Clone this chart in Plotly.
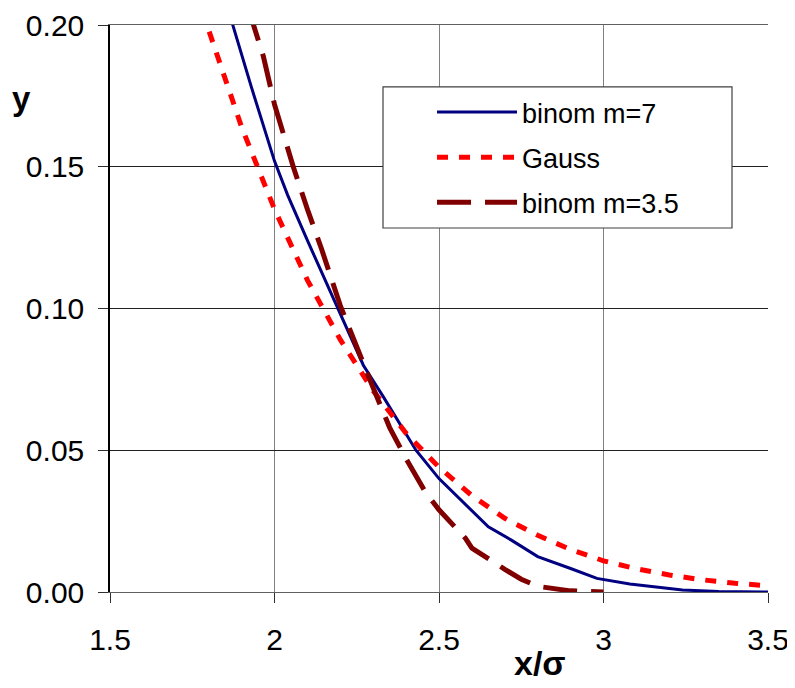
import plotly.graph_objects as go

# binom m=7
x_m7 = [1.85, 1.93, 2.0, 2.04, 2.1, 2.2, 2.27, 2.33, 2.43, 2.5, 2.65, 2.72, 2.8, 2.9, 2.98, 3.08, 3.24, 3.35, 3.5]
y_m7 = [0.209, 0.178, 0.152, 0.140, 0.124, 0.098, 0.080, 0.069, 0.050, 0.040, 0.023, 0.0183, 0.0125, 0.0083, 0.0048, 0.0028, 0.0007, 0.0002, 0.0]

# Gauss
x_g = [1.78, 1.9, 2.0, 2.1, 2.2, 2.3, 2.4, 2.5, 2.6, 2.7, 2.8, 2.9, 3.0, 3.1, 3.2, 3.3, 3.4, 3.5]
y_g = [0.205, 0.164, 0.135, 0.110, 0.089, 0.071, 0.056, 0.044, 0.034, 0.026, 0.020, 0.015, 0.011, 0.0082, 0.0060, 0.0043, 0.0031, 0.0022]

# binom m=3.5
x_m35 = [1.92, 1.966, 2.0, 2.057, 2.1, 2.143, 2.2, 2.25, 2.3, 2.35, 2.4, 2.46, 2.5, 2.58, 2.6, 2.7, 2.75, 2.8, 2.9, 3.0]
y_m35 = [0.206, 0.189, 0.172, 0.150, 0.135, 0.121, 0.101, 0.086, 0.072, 0.058, 0.047, 0.035, 0.029, 0.019, 0.0155, 0.008, 0.0045, 0.002, 0.0004, 0.0]

x_ticks = [1.5, 2, 2.5, 3, 3.5]
x_ticklabels = ["1.5", "2", "2.5", "3", "3.5"]
y_ticks = [0.0, 0.05, 0.10, 0.15, 0.20]
y_ticklabels = ["0.00", "0.05", "0.10", "0.15", "0.20"]

fig = go.Figure()
fig.add_trace(go.Scatter(x=x_m7, y=y_m7, mode="lines", name="binom m=7",
                         legendgroup="a",
                         line=dict(color="#000080", width=3)))
fig.add_trace(go.Scatter(x=x_g, y=y_g, mode="lines", name="Gauss",
                         legendgroup="b",
                         line=dict(color="#FF0000", width=5, dash="11px,11px")))
fig.add_trace(go.Scatter(x=x_m35, y=y_m35, mode="lines", name="binom m=3.5",
                         legendgroup="c",
                         line=dict(color="#800000", width=5, dash="34px,14px")))

tickfont = dict(family="Liberation Sans, Arial", size=30, color="black")

fig.update_layout(
    width=787, height=680,
    margin=dict(l=102, r=27, t=17, b=96),
    paper_bgcolor="white", plot_bgcolor="white",
    showlegend=True,
    legend=dict(x=0.4894, y=0.8889, xanchor="left", yanchor="top",
                bgcolor="rgba(0,0,0,0)", borderwidth=0,
                font=dict(family="Liberation Sans, Arial", size=27, color="black"),
                itemwidth=80, tracegroupgap=7,
                traceorder="grouped"),
    xaxis=dict(range=[1.5, 3.5], tickvals=x_ticks, ticktext=x_ticklabels,
               showgrid=True, gridcolor="#808080", gridwidth=1.3,
               showline=True, linecolor="#606060", linewidth=1.3, mirror=True,
               ticks="outside", ticklen=10, tickcolor="#303030",
               tickfont=tickfont, ticklabelstandoff=11, zeroline=False,
               automargin=False),
    yaxis=dict(range=[0, 0.20], tickvals=y_ticks, ticktext=y_ticklabels,
               showgrid=True, gridcolor="#202020", gridwidth=1,
               showline=True, linecolor="black", linewidth=1.5,
               ticks="outside", ticklen=10, tickcolor="#303030",
               tickfont=tickfont, ticklabelstandoff=8, zeroline=False,
               automargin=False),
    shapes=[
        dict(type="rect", xref="paper", yref="paper",
             x0=0.4149, x1=0.9453, y0=0.642, y1=0.8907,
             fillcolor="white", line=dict(color="#404040", width=1.2),
             layer="above"),
    ],
    annotations=[
        dict(text="<b>y</b>", xref="paper", yref="paper", x=-0.135, y=0.870,
             xanchor="center", yanchor="middle", showarrow=False,
             font=dict(family="Liberation Sans, Arial", size=33, color="black")),
        dict(text="<b>x/σ</b>", xref="paper", yref="paper", x=0.653, y=-0.0882,
             xanchor="center", yanchor="top", showarrow=False,
             font=dict(family="Liberation Sans, Arial", size=34, color="black")),
    ],
)

fig.write_html("out.html")
